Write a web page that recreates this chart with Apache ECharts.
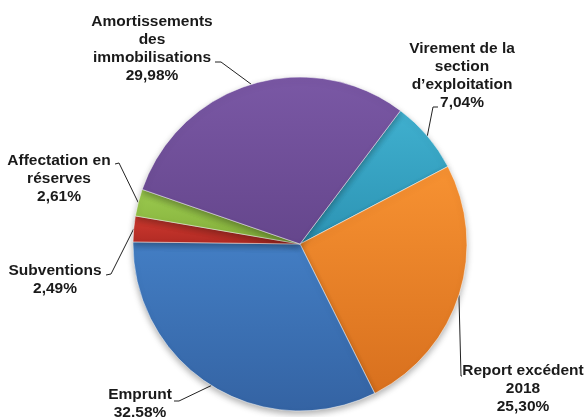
<!DOCTYPE html>
<html>
<head>
<meta charset="utf-8">
<script src="https://cdn.jsdelivr.net/npm/echarts@6/dist/echarts.min.js"></script>
<style>
  html, body { margin: 0; padding: 0; background: #fff; }
  #main { width: 587px; height: 417px; }
</style>
</head>
<body>
<div id="main"></div>
<script type="text/javascript">
    // données (ordre horaire à partir du haut droit)
    var categories = ['Virement de la\nsection\nd\u2019exploitation', 'Report excédent\n2018', 'Emprunt',
                      'Subventions', 'Affectation en\nréserves', 'Amortissements\ndes\nimmobilisations'];
    var values = [7.04, 25.30, 32.58, 2.49, 2.61, 29.98];
    var pctLabels = ['7,04%', '25,30%', '32.58%', '2,49%', '2,61%', '29,98%'];

    // couleurs haut / bas du dégradé de chaque part
    var topColors = ['#40b0cf', '#f79232', '#437ec4', '#d03a2f', '#9ccb4f', '#7a58a5'];
    var botColors = ['#2c93b3', '#d8701e', '#3463a3', '#b02a24', '#82ad3a', '#65468c'];

    // position des étiquettes : centre x, haut du bloc, coude et bout du trait
    var labelPos = [
        { x: 462, y: 40,  elbow: [433, 107], end: [438, 107] },
        { x: 523, y: 362, elbow: [461, 376], end: [462, 376] },
        { x: 140, y: 386, elbow: [179, 401], end: [174, 401] },
        { x: 55,  y: 262, elbow: [111, 274], end: [106, 275] },
        { x: 59,  y: 152, elbow: [119, 163], end: [115, 164] },
        { x: 152, y: 13,  elbow: [221, 62],  end: [215, 62] }
    ];

    var data = [];
    for (var i = 0; i < values.length; i++) {
        data.push({
            name: categories[i],
            value: values[i],
            itemStyle: {
                color: new echarts.graphic.LinearGradient(0, 0, 0, 1, [
                    { offset: 0, color: topColors[i] },
                    { offset: 1, color: botColors[i] }
                ])
            }
        });
    }

    var myChart = echarts.init(document.getElementById('main'));
    var option = {
        backgroundColor: '#ffffff',
        animation: false,
        series: [
            {
                type: 'pie',
                center: [300, 244],
                radius: 167,
                startAngle: 53,
                clockwise: true,
                avoidLabelOverlap: false,
                itemStyle: {
                    borderColor: 'rgba(255,255,255,0.5)',
                    borderWidth: 1,
                    shadowBlur: 6,
                    shadowOffsetY: 3,
                    shadowColor: 'rgba(0,0,0,0.3)'
                },
                label: {
                    show: true,
                    position: 'outside',
                    fontFamily: 'Liberation Sans, Arial, sans-serif',
                    fontWeight: 'bold',
                    fontSize: 15.5,
                    lineHeight: 18,
                    color: '#1a1a1a',
                    align: 'center',
                    formatter: function (p) {
                        return p.name + '\n' + pctLabels[p.dataIndex];
                    }
                },
                labelLine: {
                    show: true,
                    length: 10,
                    length2: 10,
                    lineStyle: { color: '#222', width: 1 }
                },
                labelLayout: function (params) {
                    var lp = labelPos[params.dataIndex];
                    var anchor = params.labelLinePoints ? params.labelLinePoints[0] : lp.elbow;
                    return {
                        x: lp.x,
                        y: lp.y,
                        align: 'center',
                        verticalAlign: 'top',
                        labelLinePoints: [anchor, lp.elbow, lp.end]
                    };
                },
                data: data
            }
        ]
    };
    myChart.setOption(option);
</script>
</body>
</html>
